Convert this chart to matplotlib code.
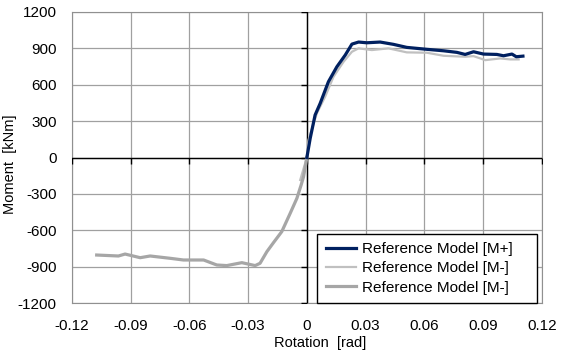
import matplotlib.pyplot as plt

plt.rcParams['font.family'] = ['Liberation Sans', 'DejaVu Sans']
plt.rcParams['font.size'] = 11
plt.rcParams['axes.unicode_minus'] = False

# Reference Model [M+]
rot_pos = [0.0, 0.0017, 0.0042, 0.0068, 0.011, 0.0153, 0.0196, 0.023, 0.0264, 0.0306,
           0.0374, 0.0442, 0.051, 0.0613, 0.0698, 0.0766, 0.0808, 0.0851, 0.0902,
           0.097, 0.1004, 0.1047, 0.1069, 0.1103]
mom_pos = [0, 158, 350, 446, 624, 747, 844, 934, 951, 945,
           951, 932, 907, 891, 879, 866, 849, 871, 852,
           849, 838, 852, 830, 835]

# Reference Model [M-] (light)
rot_neg1 = [-0.0034, 0.0, 0.0008, 0.0051, 0.0093, 0.0136, 0.0187, 0.023, 0.0264, 0.0332,
            0.0417, 0.051, 0.0613, 0.0698, 0.0808, 0.0851, 0.0911, 0.0987, 0.1038, 0.1081]
mom_neg1 = [-185, 0, 144, 364, 500, 665, 788, 871, 899, 885,
            899, 866, 863, 838, 830, 835, 802, 816, 808, 808]

# Reference Model [M-] (dark gray)
rot_neg2 = [0.0, -0.0017, -0.0030, -0.0051, -0.0085, -0.0128, -0.0170, -0.0204, -0.0239,
            -0.0264, -0.0332, -0.0409, -0.046, -0.0527, -0.063, -0.0698, -0.08, -0.0851,
            -0.0928, -0.0962, -0.1073]
mom_neg2 = [0, -158, -230, -336, -459, -610, -700, -775, -871,
            -890, -866, -890, -885, -844, -844, -830, -811, -825,
            -795, -811, -803]

xticks = [-0.12, -0.09, -0.06, -0.03, 0, 0.03, 0.06, 0.09, 0.12]
xlabels = ['-0.12', '-0.09', '-0.06', '-0.03', '0', '0.03', '0.06', '0.09', '0.12']
yticks = [-1200, -900, -600, -300, 0, 300, 600, 900, 1200]

fig = plt.figure(figsize=(5.61, 3.58), dpi=100)
ax = fig.add_axes([0.128, 0.153, 0.838, 0.814])

ax.plot(rot_pos, mom_pos, color='#002060', lw=2.3, label='Reference Model [M+]', zorder=5)
ax.plot(rot_neg1, mom_neg1, color='#c0c0c0', lw=1.6, label='Reference Model [M-]', zorder=4)
ax.plot(rot_neg2, mom_neg2, color='#a6a6a6', lw=2.3, label='Reference Model [M-]', zorder=4)

ax.set_xlim(-0.12, 0.12)
ax.set_ylim(-1200, 1200)
ax.set_xticks(xticks)
ax.set_xticklabels(xlabels)
ax.set_yticks(yticks)
ax.tick_params(axis='x', length=0, pad=11)
ax.tick_params(axis='y', length=0, pad=11)
ax.grid(True, color='#a0a0a0', lw=0.9)
ax.set_axisbelow(True)
for s in ax.spines.values():
    s.set_color('#909090')

# zero axes with tick marks
ax.axhline(0, color='black', lw=1, zorder=3)
ax.axvline(0, color='black', lw=1, zorder=3)
ax.plot(xticks, [0] * len(xticks), ls='none', marker=3, ms=4, color='black', mew=1, zorder=3)
ax.plot([0] * len(yticks), yticks, ls='none', marker=0, ms=4, color='black', mew=1, zorder=3)

ax.set_xlabel('Rotation  [rad]', fontsize=10.5)
ax.set_ylabel('Moment  [kNm]', fontsize=10.5)
ax.xaxis.set_label_coords(0.528, -0.113)
ax.yaxis.set_label_coords(-0.117, 0.478)

leg = ax.legend(loc='lower left', bbox_to_anchor=(0.522, 0.0, 0.468, 0.3), mode='expand',
                frameon=True, fancybox=False, edgecolor='black', framealpha=1,
                borderaxespad=0.0, handlelength=2.0, handletextpad=0.35,
                labelspacing=0.35, borderpad=0.55)
leg.get_frame().set_linewidth(1)

fig.savefig('out.png', dpi=100)
